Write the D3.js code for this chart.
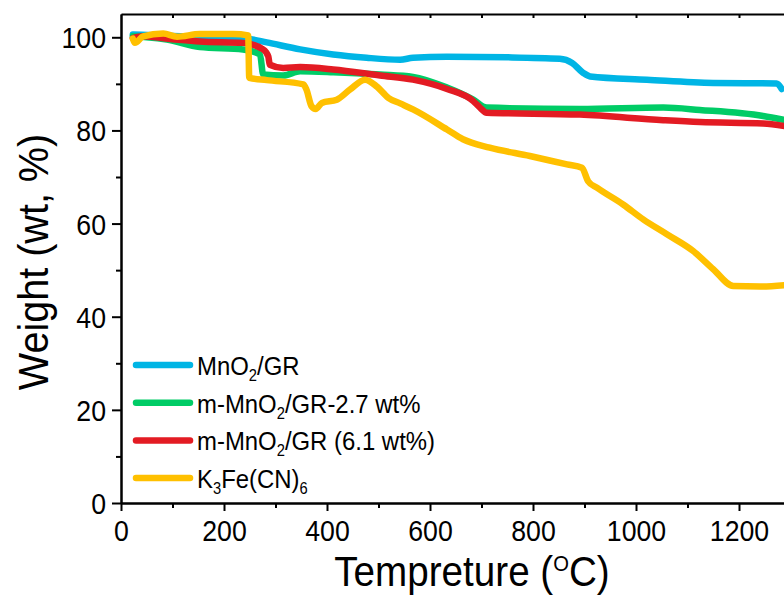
<!DOCTYPE html>
<html>
<head>
<meta charset="utf-8">
<script src="https://cdn.jsdelivr.net/npm/d3@7"></script>
<style>
  body { margin: 0; background: #fff; }
  svg { display: block; font-family: "Liberation Sans", Arimo, Arial, sans-serif; }
</style>
</head>
<body>
<script>
const svgW = 784;
const svgH = 596;
const plotL = 121, plotT = 14, plotB = 503;
const fontFam = '"Liberation Sans", Arimo, Arial, sans-serif';

// 数据 (temperature in °C, weight in wt%)
const mnoT = [23, 100, 200, 245, 283, 348, 412, 477, 542, 567, 633, 750, 852, 876, 897, 911, 1021, 1150, 1273, 1283];
const mnoW = [100.6, 100.3, 100.0, 99.7, 98.9, 97.4, 96.3, 95.6, 95.2, 95.6, 95.8, 95.7, 95.4, 94.5, 92.4, 91.6, 90.9, 90.2, 90.1, 88.9];

const m27T = [23, 50, 89, 153, 237, 270, 276, 315, 348, 412, 503, 567, 633, 684, 710, 891, 1053, 1124, 1247, 1290];
const m27W = [100.2, 100.0, 99.5, 97.9, 97.4, 96.3, 92.0, 91.8, 92.7, 92.5, 92.0, 91.5, 89.2, 86.6, 84.9, 84.6, 84.9, 84.4, 83.1, 82.2];

const m61T = [23, 43, 100, 153, 237, 276, 286, 289, 315, 348, 412, 503, 567, 633, 684, 697, 710, 891, 1053, 1124, 1247, 1290];
const m61W = [99.8, 100.2, 99.6, 99.1, 98.8, 97.4, 95.9, 94.1, 93.4, 93.6, 93.1, 91.8, 90.9, 88.9, 86.3, 84.9, 83.8, 83.4, 82.2, 81.8, 81.5, 80.9];

const kfeT = [23, 27, 43, 82, 109, 153, 218, 247, 249, 283, 354, 360, 370, 378, 390, 419, 445, 474, 497, 519, 542, 567, 633, 664, 716, 794, 866, 895, 907, 924, 975, 1014, 1060, 1111, 1150, 1189, 1241, 1290];
const kfeW = [99.7, 98.8, 100.2, 100.8, 100.1, 100.7, 100.7, 100.4, 91.3, 90.8, 89.9, 88.8, 85.2, 84.6, 85.9, 86.6, 88.8, 90.9, 89.4, 87.0, 85.8, 84.5, 80.2, 78.1, 76.3, 74.5, 72.7, 72.0, 69.1, 67.7, 64.1, 60.9, 57.7, 54.1, 50.2, 46.6, 46.5, 46.8];

const xTicks = [0, 200, 400, 600, 800, 1000, 1200];
const yTicks = [0, 20, 40, 60, 80, 100];

const series = [
  { name: 'mno', t: mnoT, w: mnoW, color: '#00B5E5' },
  { name: 'm27', t: m27T, w: m27W, color: '#00CC66' },
  { name: 'm61', t: m61T, w: m61W, color: '#E31B23' },
  { name: 'kfe', t: kfeT, w: kfeW, color: '#FFC000' }
];

const svg = d3.select('body')
              .append('svg')
              .attr('width', svgW)
              .attr('height', svgH);

const xScale = d3.scaleLinear().domain([0, 1300]).range([plotL, plotL + 6.5 * 103]);
const yScale = d3.scaleLinear().domain([0, 105]).range([plotB, plotT]);

// 曲线
const line = d3.line()
               .curve(d3.curveMonotoneX)
               .x(d => xScale(d[0]))
               .y(d => yScale(d[1]));

series.forEach(s => {
  svg.append('path')
     .datum(s.t.map((t, i) => [t, s.w[i]]))
     .attr('fill', 'none')
     .attr('stroke', s.color)
     .attr('stroke-width', 6.5)
     .attr('stroke-linejoin', 'round')
     .attr('stroke-linecap', 'round')
     .attr('d', line);
});

// 坐标轴
const xAxis = svg.append('g')
   .attr('transform', `translate(0, ${plotB})`)
   .call(d3.axisBottom(xScale).tickValues(xTicks).tickFormat(d3.format('d'))
           .tickSize(8).tickSizeOuter(0).tickPadding(9));
svg.append('g')
   .attr('transform', `translate(0, ${plotB})`)
   .call(d3.axisBottom(xScale).tickValues(d3.range(100, 1300, 200)).tickSize(5).tickFormat('').tickSizeOuter(0));

const yAxis = svg.append('g')
   .attr('transform', `translate(${plotL}, 0)`)
   .call(d3.axisLeft(yScale).tickValues(yTicks).tickSize(9).tickSizeOuter(0).tickPadding(6));
svg.append('g')
   .attr('transform', `translate(${plotL}, 0)`)
   .call(d3.axisLeft(yScale).tickValues([10, 30, 50, 70, 90]).tickSize(5).tickFormat('').tickSizeOuter(0));

// 上边框
svg.append('g')
   .attr('transform', `translate(0, ${plotT})`)
   .call(d3.axisBottom(xScale).tickValues(d3.range(100, 1300, 100)).tickSize(4).tickFormat('').tickSizeOuter(0));

svg.selectAll('.domain').attr('stroke', '#000').attr('stroke-width', 2);
svg.selectAll('.tick line').attr('stroke', '#000').attr('stroke-width', 2);
svg.selectAll('.tick text').attr('font-size', '29px').attr('fill', '#000')
   .attr('font-family', fontFam);
xAxis.selectAll('.tick text').attr('transform', 'scale(0.92,1)');
yAxis.selectAll('.tick text')
   .attr('x', 0)
   .attr('dy', '0.36em')
   .attr('transform', 'translate(-15,0) scale(0.92,1)');

// 轴标题
svg.append('text')
   .attr('transform', 'translate(48, 262) rotate(-90) scale(0.92,1)')
   .attr('text-anchor', 'middle')
   .attr('font-size', '43px')
   .text('Weight (wt, %)');

const xt = svg.append('text')
   .attr('transform', 'translate(472, 586) scale(0.92,1)')
   .attr('text-anchor', 'middle')
   .attr('font-size', '42px');
xt.append('tspan').text('Tempreture (');
xt.append('tspan').attr('font-size', '22px').attr('dy', '-15').text('O');
xt.append('tspan').attr('dy', '15').text('C)');

// 图例
const legend = [
  { color: '#00B5E5', parts: [['MnO', 0], ['2', 1], ['/GR', 0]] },
  { color: '#00CC66', parts: [['m-MnO', 0], ['2', 1], ['/GR-2.7 wt%', 0]] },
  { color: '#E31B23', parts: [['m-MnO', 0], ['2', 1], ['/GR (6.1 wt%)', 0]] },
  { color: '#FFC000', parts: [['K', 0], ['3', 1], ['Fe(CN)', 0], ['6', 1]] }
];
const lg = svg.append('g').attr('transform', 'translate(0, 365)');
legend.forEach((d, i) => {
  const y = i * 37.7;
  lg.append('line')
    .attr('x1', 136).attr('x2', 190)
    .attr('y1', y).attr('y2', y)
    .attr('stroke', d.color)
    .attr('stroke-width', 6.5)
    .attr('stroke-linecap', 'round');
  const t = lg.append('text')
    .attr('transform', `translate(197, ${y + 10}) scale(0.92,1)`)
    .attr('font-size', '26px');
  let prevSub = 0;
  d.parts.forEach(p => {
    const sub = p[1];
    t.append('tspan')
     .attr('dy', (sub - prevSub) * 6)
     .attr('font-size', sub ? '16px' : '26px')
     .text(p[0]);
    prevSub = sub;
  });
});
</script>
</body>
</html>
